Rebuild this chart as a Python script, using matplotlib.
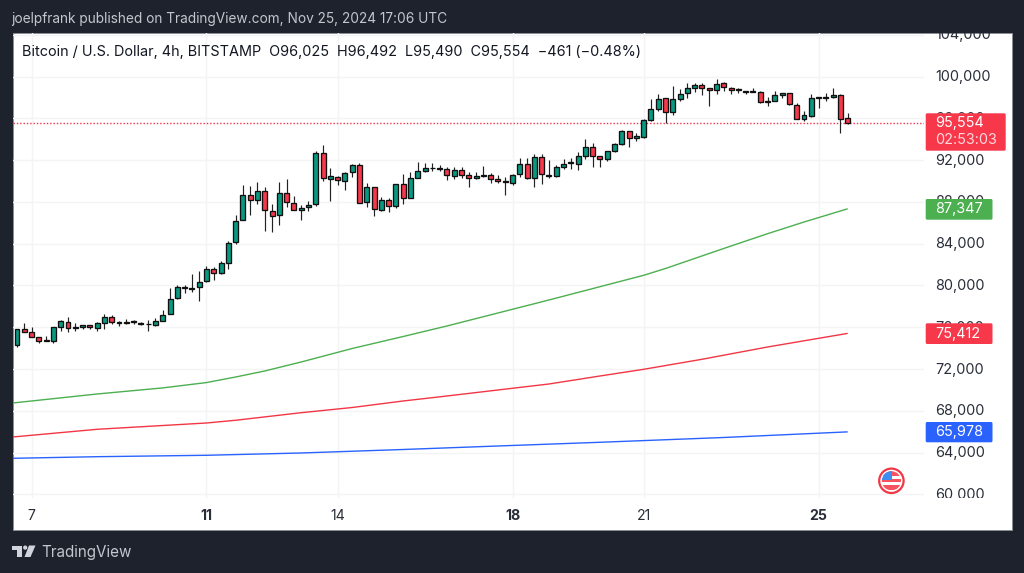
import numpy as np
import matplotlib
matplotlib.use("Agg")
import matplotlib.pyplot as plt
from matplotlib.patches import Rectangle, FancyBboxPatch, Circle, Polygon
from matplotlib.transforms import Bbox, ScaledTranslation

plt.rcParams['font.family'] = ['Inter', 'DejaVu Sans']

opens = [74328,75832,75576,75032,74776,74712,76024,76536,76024,75992,76184,75928,76440,76952,76504,76376,76504,76440,76344,76184,
76632,77240,78808,79768,79736,79832,80399,81580,81165,82187,84135,86268,88700,88156,89084,87164,86716,88828,87932,87228,
87484,87772,92668,90236,90428,89980,90844,91516,87964,89404,87228,88156,87644,89692,88404,90324,90996,91220,91252,91124,
90484,91060,90548,90260,90484,90612,90164,90004,89844,90644,91604,90260,92276,90612,90452,91380,91732,91636,92436,93300,
92372,92084,92852,93556,94772,94100,94248,95816,96936,97928,96648,97864,98408,98920,99240,98888,98760,99368,98952,98824,
98664,98568,98536,97704,97704,98280,98472,97320,95912,96232,97992,97960,98088,98248,96025]
highs = [75832,76376,75992,75032,75160,76024,76696,76952,76376,76184,76248,76536,77272,77176,76632,76760,76696,76536,76696,76888,
77624,79736,80056,80056,81080,81432,81867,81804,82347,84295,86753,89596,89532,89948,89404,87804,89916,90172,88572,87676,
88124,92860,93468,91228,90492,90876,91644,91772,89852,89404,88444,88348,89692,90684,90836,91860,91700,91764,91508,91380,
91316,91316,90868,90836,91412,90804,90548,90356,90708,92180,92180,92596,92564,92052,91508,92084,92212,92788,94068,93620,
92436,92916,93652,94900,94836,94644,95912,97864,98344,97928,99112,98792,99368,99368,99368,98952,99752,99496,98984,98920,
98664,98920,98600,98088,98600,98408,98472,97448,96744,98344,98088,98408,98888,98344,96492]
lows = [74136,75576,75064,74456,74712,74520,75608,75512,75608,75800,75864,75672,75864,76312,76152,76312,76312,76248,75608,76120,
76568,77240,78744,79256,79416,78552,80335,80527,81133,81580,83943,86268,86748,87804,85212,85116,85788,87484,87196,86268,
87164,87612,90044,88060,89596,89116,90428,87932,87548,86684,87164,87068,87388,87772,88340,90260,90868,90996,90932,90100,
90228,90292,89396,90164,90420,89844,89844,88692,89652,90420,90164,89396,89716,90260,90420,91124,91188,91028,92148,91380,
91380,91924,92788,93492,93236,93812,94120,95784,96744,95592,96328,97672,97960,98536,98280,97192,98344,98664,98344,98408,
98344,98536,97512,97192,97640,97960,97320,95912,95752,96168,97000,97640,97960,94568,95490]
closes = [75832,75576,75064,74712,74712,76024,76568,75896,75960,76184,75992,76440,76984,76536,76376,76504,76568,76312,76280,76600,
77208,78744,79832,79832,79672,80312,81612,81229,82123,84103,86210,88700,88156,89020,87228,86652,88828,87996,87196,87420,
87708,92668,90332,90460,90076,90780,91516,87932,89404,87292,88156,87644,89692,88412,90324,90964,91252,91284,91188,90548,
91060,90548,90260,90452,90612,90196,90036,89908,90612,91604,90260,92276,90676,90452,91380,91604,91796,92372,93236,92404,
92116,92852,93524,94772,94100,94292,95816,96872,97864,96648,97896,98344,98888,99240,98952,98760,99336,98984,98728,98728,
98504,98632,97576,97608,98248,98408,97352,95944,96328,97960,98056,98088,98216,95912,95554]

ma_green_idx = [-0.6,11,20,26,30,34,39,46,53,59,66,73,80,86,89,94,98,103,108,114]
ma_green = [68743,69606,70190,70700,71233,71810,72672,73964,75114,76120,77365,78611,79884,80976,81628,82830,83785,84960,86080,87347]
ma_red_idx = [-0.6,11,26,30,39,46,53,59,66,73,80,86,94,103,114]
ma_red = [65486,66225,66828,67090,67814,68312,68936,69414,69989,70564,71330,71971,72930,74108,75412]
ma_blue_idx = [-0.6,11,26,39,53,66,80,97,114]
ma_blue = [63446,63600,63735,63955,64290,64625,64980,65440,65978]

price_ticks = [60000,64000,68000,72000,76000,80000,84000,88000,92000,96000,100000,104000]
date_idx = [2,26,44,68,86,110]
date_labels = ['7','11','14','18','21','25']
date_bold = [False,True,False,True,False,True]
last_price = 95554

DARK = '#1e222d'; TEAL = '#089981'; RED = '#f7374a'; GREEN = '#4caf50'; BLUE = '#2962ff'; INK = '#131722'; GRID = '#f3f4f6'
W, H = 1024, 573
fig = plt.figure(figsize=(W/100, H/100), dpi=100, facecolor=DARK)
fig.add_artist(Rectangle((12.7/W, 1-530/H), 999/W, 497/H, transform=fig.transFigure,
                         facecolor='white', edgecolor='#8a8d96', linewidth=0.7, zorder=-5))

left, right, top, bottom = 12.7, 924, 33, 497.5
ax = fig.add_axes([left/W, 1-bottom/H, (right-left)/W, (bottom-top)/H], facecolor='none')
ax.set_xlim(-0.59, 124.47)
ax.set_ylim(59691, 104186)
for s in ax.spines.values():
    s.set_visible(False)

ax.set_axisbelow(True)
ax.grid(True, color=GRID, linewidth=1.0)

o, h, l, c = map(np.array, (opens, highs, lows, closes))
x = np.arange(len(o))
colors = np.where(c >= o, TEAL, RED)
ax.plot(ma_green_idx, ma_green, color=GREEN, lw=1.0, zorder=2, solid_capstyle='butt')
ax.plot(ma_red_idx, ma_red, color='#f23645', lw=1.0, zorder=2, solid_capstyle='butt')
ax.plot(ma_blue_idx, ma_blue, color=BLUE, lw=1.0, zorder=2, solid_capstyle='butt')
ax.axhline(last_price, color='#f2304a', lw=1.0, ls=(0, (1, 1.4)), zorder=2)
ax.vlines(x, l, h, color='#222222', lw=0.85, zorder=3)
ax.bar(x, np.abs(c-o), bottom=np.minimum(o, c), width=0.68, color=colors,
       edgecolor='#101010', linewidth=0.95, zorder=4)

ax.yaxis.tick_right()
ax.set_yticks(price_ticks)
ax.set_yticklabels([f'{p:,}' for p in price_ticks], fontsize=10.4, color='#2a2e39', ha='left')
ax.tick_params(axis='y', length=0, pad=8.1)
ax.set_xticks(date_idx)
ax.set_xticklabels(date_labels, fontsize=10.2, color='#2a2e39')
for t, b in zip(ax.get_xticklabels(), date_bold):
    t.set_fontweight('bold' if b else 'normal')
ax.tick_params(axis='x', length=0, pad=8.3)
clip = Bbox([[0, H-bottom], [W, H-top]])
shift = ScaledTranslation(0, 1/100, fig.dpi_scale_trans)
for t in ax.get_yticklabels():
    t.set_transform(t.get_transform() + shift)
    t.set_clip_box(clip)
    t.set_clip_on(True)

# decoration layer in pixel coordinates
ov = fig.add_axes([0, 0, 1, 1], facecolor='none')
ov.set_xlim(0, W); ov.set_ylim(H, 0); ov.axis('off')

def badge(x0, y0, x1, y1, col):
    ov.add_patch(FancyBboxPatch((x0+1, y0+1), x1-x0-2, y1-y0-2, boxstyle='round,pad=1,rounding_size=1.5',
                                facecolor=col, edgecolor='none', zorder=5))

tkw = dict(fontsize=10.4, va='center', ha='left', zorder=6)
badge(925.7, 113.3, 1005.7, 150.7, RED)
ov.text(935.5, 123, f'{last_price:,}', color='white', **tkw)
ov.text(935.5, 140.5, '02:53:03', color='#ffd9dd', **tkw)
badge(925.7, 199, 992.5, 219.7, GREEN)
ov.text(935.5, 209.2, '87,347', color='white', **tkw)
badge(925.7, 323.3, 992.5, 344, RED)
ov.text(935.5, 333.8, '75,412', color='white', **tkw)
badge(925.7, 422, 992.5, 442.3, BLUE)
ov.text(935.5, 432.2, '65,978', color='white', **tkw)

ov.text(11, 19.5, 'joelpfrank published on TradingView.com, Nov 25, 2024 17:06 UTC',
        color='#c3c6cd', fontsize=9.85, va='center', ha='left')
ov.text(22, 52, 'Bitcoin / U.S. Dollar, 4h, BITSTAMP  O96,025  H96,492  L95,490  C95,554  \u2212461 (\u22120.48%)',
        color=INK, fontsize=10.4, va='center', ha='left')
ov.text(41, 552, 'TradingView', color='#c3c6cd', fontsize=10.95, va='center', ha='left')

# TradingView mark
LOGO = '#d1d4dc'
ov.add_patch(Polygon([(12.3,545.5),(22,545.5),(22,557),(17,557),(17,549.5),(12.3,549.5)], closed=True, fc=LOGO, ec='none'))
ov.add_patch(Circle((25.2,547.6), 2.1, fc=LOGO, ec='none'))
ov.add_patch(Polygon([(29,545.5),(35.5,545.5),(30.5,557),(24.5,557)], closed=True, fc=LOGO, ec='none'))

# flag icon
cx, cy = 891.4, 480.8
ring = Circle((cx, cy), 12.2, fc='white', ec='#f23645', lw=1.6, zorder=6)
ov.add_patch(ring)
inner = Circle((cx, cy), 9.6, transform=ov.transData, fc='none', ec='none')
ov.add_patch(inner)
stripes = [(cx-10, cy-9.6, 20, 4.6, '#f7525f'), (cx-10, cy-1.8, 20, 3.4, '#f7525f'), (cx-10, cy+4.4, 20, 5.2, '#f7525f'),
           (cx-10, cy-9.6, 10.5, 8.8, '#3d8ef0')]
for sx, sy, sw, sh, col in stripes:
    r = Rectangle((sx, sy), sw, sh, fc=col, ec='none', zorder=7)
    ov.add_patch(r)
    r.set_clip_path(inner)

fig.savefig('out.png', dpi=100, facecolor=DARK)
